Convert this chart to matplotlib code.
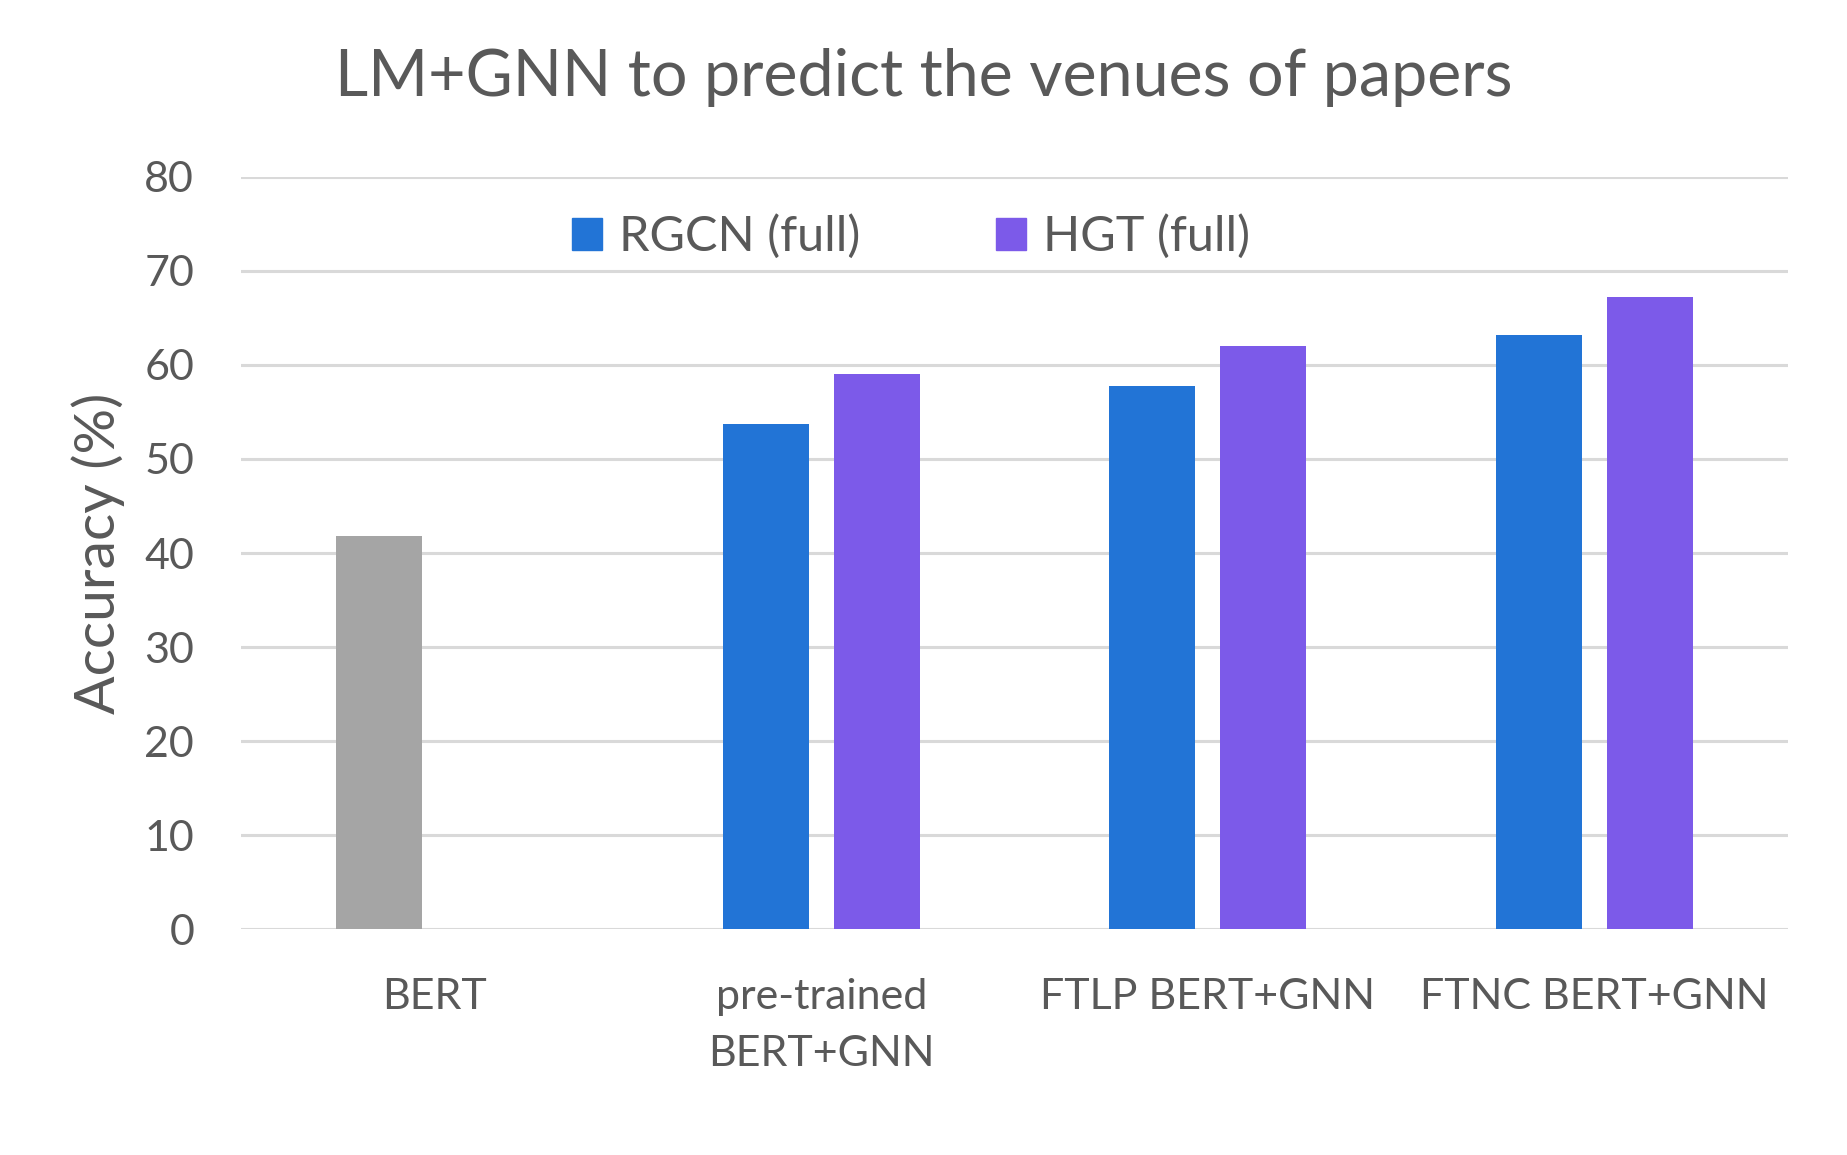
import matplotlib
matplotlib.use("Agg")
import matplotlib.pyplot as plt
import numpy as np
from matplotlib.patches import Patch

categories = ["BERT", "pre-trained\nBERT+GNN", "FTLP BERT+GNN", "FTNC BERT+GNN"]
rgcn_full = [41.8, 53.7, 57.8, 63.2]   # first value is the BERT baseline (grey)
hgt_full = [np.nan, 59.0, 62.0, 67.2]
yticks = [0, 10, 20, 30, 40, 50, 60, 70, 80]

text_color = "#595959"
grey = "#a5a5a5"
blue = "#2274d6"
purple = "#7c5ae9"

plt.rcParams['font.family'] = ['Lato', 'DejaVu Sans']

fig = plt.figure(figsize=(18.47, 11.55), dpi=100)
ax = fig.add_axes([0.1307, 0.1953, 0.8373, 0.6517])

x = np.arange(len(categories))
width = 0.2225
offset = 0.1435

bar_colors = [grey] + [blue] * (len(categories) - 1)
ax.bar(x - offset, rgcn_full, width, color=bar_colors, zorder=3)
ax.bar(x + offset, hgt_full, width, color=purple, zorder=3)

ax.set_xlim(-0.5, len(categories) - 0.5)
ax.set_ylim(0, 80)
ax.set_yticks(yticks)
ax.set_xticks(x)
ax.set_xticklabels(categories, linespacing=1.6)
ax.grid(axis='y', color='#d9d9d9', linewidth=2.2, zorder=0)
ax.set_axisbelow(True)
for side in ['top', 'right', 'left', 'bottom']:
    ax.spines[side].set_visible(False)
ax.tick_params(axis='both', length=0, labelsize=31, colors=text_color)
ax.tick_params(axis='y', pad=34)
ax.tick_params(axis='x', pad=35)

ax.set_ylabel("Accuracy (%)", fontsize=41, color=text_color, va='center')
ax.yaxis.set_label_coords(-0.0928, 0.5)

fig.text(0.5, 0.9325, "LM+GNN to predict the venues of papers", fontsize=46.5,
         color=text_color, ha='center', va='center')

handles = [Patch(color=blue, label="RGCN (full)"), Patch(color=purple, label="HGT (full)")]
leg = ax.legend(handles=handles, loc='center', bbox_to_anchor=(0.433, 0.92),
                ncol=2, frameon=False, fontsize=35, handlelength=0.62, handleheight=0.62,
                handletextpad=0.35, columnspacing=2.8, labelcolor=text_color)

fig.savefig("out.png", dpi=100, facecolor='white')
